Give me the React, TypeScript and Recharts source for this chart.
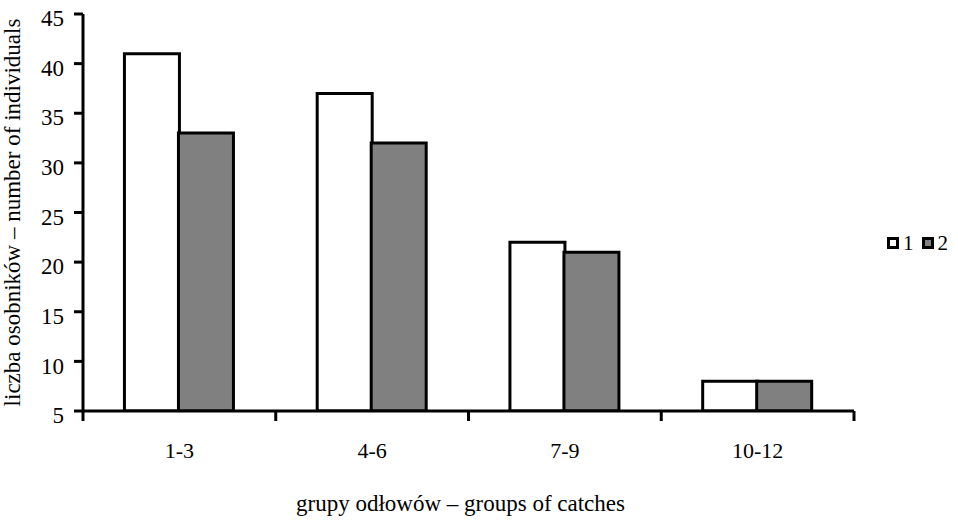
import { BarChart, Bar, XAxis, YAxis } from "recharts";

const categories = ["1-3", "4-6", "7-9", "10-12"];
const series1 = [41, 37, 22, 8];
const series2 = [33, 32, 21, 8];
const yTicks = [5, 10, 15, 20, 25, 30, 35, 40, 45];
const seriesNames = ["1", "2"];
const seriesFills = ["#fff", "#808080"];

const data = categories.map((name, i) => ({
    name,
    s1: series1[i],
    s2: series2[i]
}));

const FONT = "Liberation Serif, Times New Roman, serif";

// ticks sit on category boundaries, not centres
function BoundaryTick(props: any) {
    const { x, y, payload, index, visibleTicksCount } = props;
    const half = payload && payload.offset ? payload.offset : 96.5;
    const last = index === visibleTicksCount - 1;
    return (
        <g>
            <line x1={x - half} y1={y} x2={x - half} y2={y + 10} stroke="#000" strokeWidth={3} />
            {last && (
                <line x1={x + half} y1={y} x2={x + half} y2={y + 10} stroke="#000" strokeWidth={3} />
            )}
            <text x={x} y={y + 47} textAnchor="middle" style={{ fontFamily: FONT, fontSize: 22 }} fill="#000">
                {payload.value}
            </text>
        </g>
    );
}

// legend drawn outside recharts so it does not eat into the plot width
function LegendBox() {
    return (
        <div
            style={{
                position: "absolute",
                left: 887,
                top: 231,
                display: "flex",
                alignItems: "center",
                fontFamily: FONT,
                fontSize: 21,
                lineHeight: "24px"
            }}
        >
            {seriesNames.map((label, i) => (
                <span key={label} style={{ display: "flex", alignItems: "center", marginRight: 8 }}>
                    <svg width={12} height={12} style={{ marginRight: 4 }}>
                        <rect x={1.5} y={1.5} width={9} height={9} fill={seriesFills[i]} stroke="#000" strokeWidth={3} />
                    </svg>
                    {label}
                </span>
            ))}
        </div>
    );
}

export default function App() {
    return (
        <div style={{ position: "absolute", left: 0, top: 0, width: 958, height: 522, background: "#fff" }}>
            <BarChart
                width={958}
                height={522}
                data={data}
                margin={{ top: 14, right: 104, left: 0, bottom: 0 }}
                barGap={-1}
                barCategoryGap="21.5%"
            >
                <XAxis
                    dataKey="name"
                    height={111}
                    axisLine={{ stroke: "#000", strokeWidth: 3 }}
                    tickLine={false}
                    tickSize={0}
                    tickMargin={0}
                    tick={<BoundaryTick />}
                    interval={0}
                    label={{
                        value: "grupy odłowów – groups of catches",
                        position: "insideBottom",
                        offset: 11,
                        dx: -8,
                        fill: "#000",
                        style: { fontFamily: FONT, fontSize: 23 }
                    }}
                />
                <YAxis
                    width={83}
                    domain={[5, 45]}
                    ticks={yTicks}
                    allowDataOverflow
                    interval={0}
                    axisLine={{ stroke: "#000", strokeWidth: 3 }}
                    tickLine={{ stroke: "#000", strokeWidth: 3 }}
                    tickSize={9}
                    tickMargin={10}
                    tick={{ fill: "#000", dy: 4, style: { fontFamily: FONT, fontSize: 23 } }}
                    label={{
                        value: "liczba osobników – number of individuals",
                        angle: -90,
                        position: "insideLeft",
                        offset: 12,
                        fill: "#000",
                        style: { textAnchor: "middle", fontFamily: FONT, fontSize: 23 }
                    }}
                />
                <Bar dataKey="s1" fill={seriesFills[0]} stroke="#000" strokeWidth={3} isAnimationActive={false} />
                <Bar dataKey="s2" fill={seriesFills[1]} stroke="#000" strokeWidth={3} isAnimationActive={false} />
            </BarChart>
            <LegendBox />
        </div>
    );
}
